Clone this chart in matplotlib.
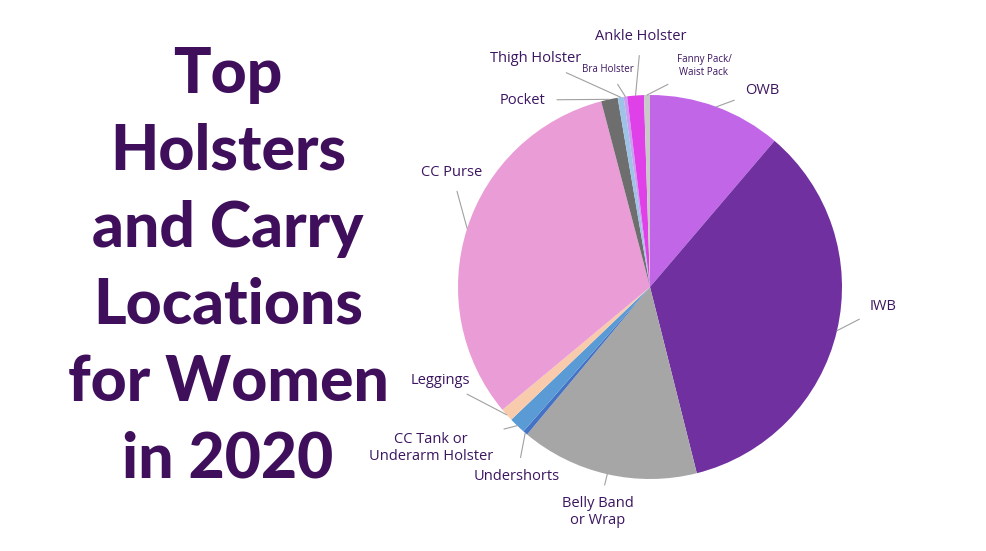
import matplotlib
matplotlib.use("Agg")
import matplotlib.pyplot as plt
import numpy as np

labels = ["OWB", "IWB", "Belly Band\nor Wrap", "Undershorts", "CC Tank or\nUnderarm Holster", "Leggings",
          "CC Purse", "Pocket", "Thigh Holster", "Bra Holster", "Ankle Holster", "Fanny Pack/\nWaist Pack"]
values = [11.25, 34.9, 15.0, 0.4, 1.4, 1.1, 32.0, 1.4, 0.5, 0.3, 1.4, 0.5]
colors = ["#C266E8", "#7030A0", "#A6A6A6", "#4472C4", "#5B9BD5", "#F8CBAD",
          "#EA9CD6", "#6E6E6E", "#9DC3E6", "#C9A0F0", "#E040E8", "#C9C9C9"]
label_px = [(762, 90), (883, 307), (598, 512), (517, 476), (431, 448), (440, 380),
            (452, 173), (523, 100), (536, 59), (608, 69), (641, 37), (704, 66)]
small = {"Bra Holster", "Fanny Pack/\nWaist Pack"}

W, H, cx, cy, R = 987, 551, 650, 287, 192
fig = plt.figure(figsize=(W/100, H/100), dpi=100)
ax = fig.add_axes([0, 0, 1, 1])

wedges, _ = ax.pie(values, colors=colors, startangle=90, counterclock=False, radius=1,
                   wedgeprops=dict(linewidth=0))
ax.set_xlim(-cx/R, (W-cx)/R)
ax.set_ylim(-(H-cy)/R, cy/R)
ax.set_aspect("equal")
ax.axis("off")
tc = "#3B1560"
for w, lab, (px, py) in zip(wedges, labels, label_px):
    a = np.deg2rad((w.theta1 + w.theta2) / 2)
    xy = (np.cos(a), np.sin(a))
    xt = ((px-cx)/R, (cy-py)/R)
    fs = 7 if lab in small else 10.5
    ax.annotate(lab, xy=xy, xytext=xt, ha="center", va="center", fontsize=fs, color=tc,
                family="Open Sans",
                arrowprops=dict(arrowstyle="-", color="#A0A0A0", lw=0.8, shrinkA=6, shrinkB=0))

title = ["Top", "Holsters", "and Carry", "Locations", "for Women", "in 2020"]
for i, t in enumerate(title):
    fig.text(228/W, 1 - (75 + i*77)/H, t, ha="center", va="center", fontsize=45,
             fontweight="black", family="Lato", color="#3F0F5C")

fig.savefig("out.png", dpi=100)
